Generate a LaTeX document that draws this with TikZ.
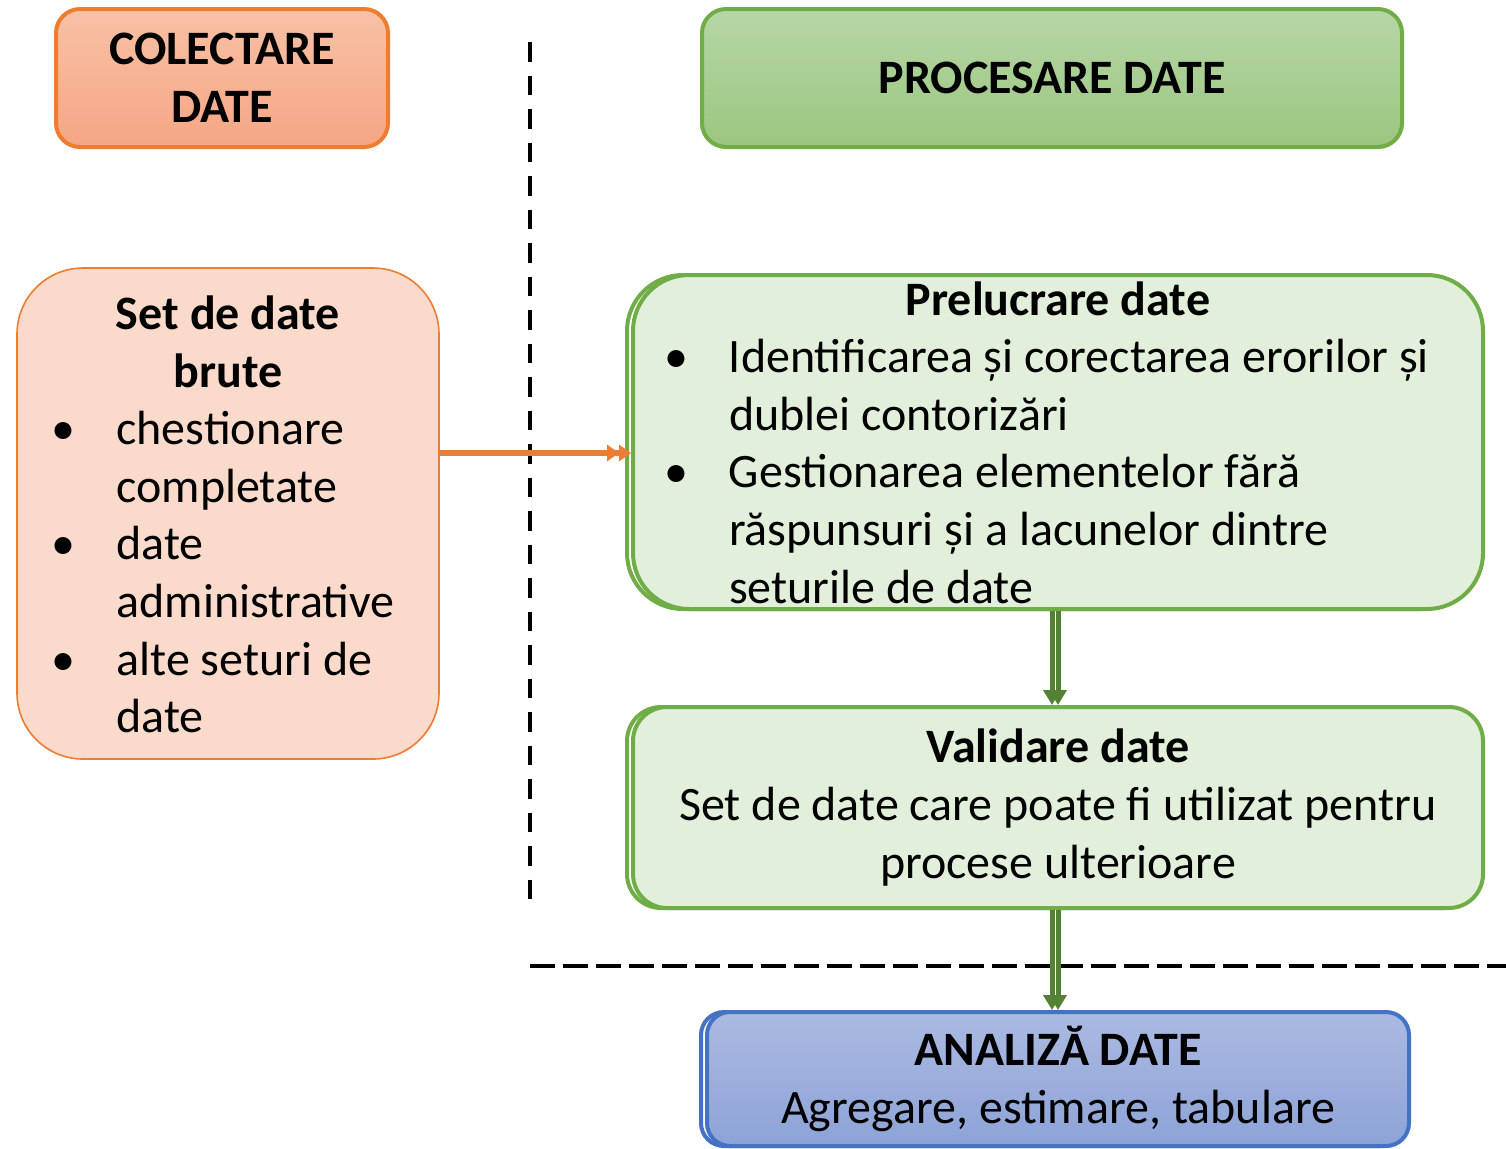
\documentclass[tikz,border=0pt]{standalone}
\usepackage{fontspec}
\setmainfont{Carlito}
\usepackage{tikz}
\usetikzlibrary{positioning,arrows.meta,shadows}

\definecolor{orline}{RGB}{237,125,49}
\definecolor{ortop}{RGB}{248,193,166}
\definecolor{orbot}{RGB}{245,166,132}
\definecolor{orfill}{RGB}{250,218,203}
\definecolor{grline}{RGB}{112,173,71}
\definecolor{grtop}{RGB}{182,215,167}
\definecolor{grbot}{RGB}{155,198,127}
\definecolor{grfill}{RGB}{226,239,218}
\definecolor{grdark}{RGB}{84,130,53}
\definecolor{blline}{RGB}{68,114,196}
\definecolor{bltop}{RGB}{171,186,226}
\definecolor{blbot}{RGB}{141,163,215}

\begin{document}
\begin{tikzpicture}[x=0.5pt,y=-0.5pt,
    every node/.style={font=\fontsize{24}{28.8}\selectfont, inner sep=0pt},
    boldtext/.style={font=\fontsize{24}{28.8}\selectfont\bfseries},
    headbox/.style={draw, line width=2pt, rounded corners=12pt, align=center},
    copyshadow/.style={general shadow={shadow xshift=-3pt, shadow yshift=0pt,
        draw=#1, fill=white, line width=2pt}},
    stagebox/.style={draw=grline, fill=grfill, line width=2pt, copyshadow=grline,
        minimum width=425pt},
    dashline/.style={line width=2pt, dash pattern=on #1 off 7pt},
    grarrow/.style={draw=grdark, line width=2.5pt, -{Triangle[length=7.5pt,width=8.5pt]}}]
  \useasboundingbox (0,0) rectangle (1506,1148);

  % separators
  \draw[dashline=9.75pt] (530,42) -- (530,900);
  \draw[line width=2pt, dash pattern=on 12.5pt off 4pt] (530,966) -- (1506,966);

  \node[headbox, boldtext, draw=orline, top color=ortop, bottom color=orbot,
    minimum width=166pt, minimum height=69pt] (collect) at (222,78) {COLECTARE\\DATE};
  \node[headbox, boldtext, draw=grline, top color=grtop, bottom color=grbot,
    minimum width=350pt, minimum height=69pt, right=155pt of collect] (proc) {PROCESARE DATE};

  \node[draw=orline, fill=orfill, line width=0.8pt, rounded corners=33pt,
    minimum width=211pt, minimum height=245.5pt] (raw) at (228,513.5) {%
    \smash{\raisebox{-9.25pt}{%
    \begin{tabular}{@{}p{32.5pt}@{}p{144pt}@{}}
      \multicolumn{2}{c}{\bfseries Set de date}\\
      \multicolumn{2}{c}{\bfseries brute}\\
      \textbullet & chestionare\\
                  & completate\\
      \textbullet & date\\
                  & administrative\\
      \textbullet & alte seturi de\\
                  & date
    \end{tabular}}}};

  % text runs over the box, as in the source
  \node[stagebox, rounded corners=28pt, minimum height=167pt] (prel) at (1058,442) {%
    \smash{\raisebox{-9pt}{%
    \begin{tabular}{@{}p{32.5pt}@{}p{361.5pt}@{}}
      \multicolumn{2}{c}{\bfseries Prelucrare date}\\
      \textbullet & Identificarea și corectarea erorilor și\\
                  & dublei contorizări\\
      \textbullet & Gestionarea elementelor fără\\
                  & răspunsuri și a lacunelor dintre\\
                  & seturile de date
    \end{tabular}}}};
  \node[stagebox, rounded corners=17pt, minimum height=100.5pt, align=center,
    below=47pt of prel] (valid)
    {{\bfseries Validare date}\\Set de date care poate fi utilizat pentru\\procese ulterioare};
  \node[draw=blline, top color=bltop, bottom color=blbot, line width=2pt, copyshadow=blline,
    rounded corners=11.5pt, minimum width=351pt, minimum height=67pt, align=center,
    below=50pt of valid] (ana)
    {{\bfseries ANALIZĂ DATE}\\Agregare, estimare, tabulare};

  \coordinate (arrowy) at (530,453);
  \draw[orline, line width=2.6pt,
    -{Triangle[length=6pt,width=8pt]Triangle[length=6pt,width=8pt]}]
    (raw.east |- arrowy) -- (prel.west |- arrowy);
  \draw[grarrow] ([xshift=-3pt]prel.south) -- ([xshift=-3pt]valid.north);
  \draw[grarrow] (prel.south) -- (valid.north);
  \draw[grarrow] ([xshift=-3pt]valid.south) -- ([xshift=-3pt]ana.north);
  \draw[grarrow] (valid.south) -- (ana.north);
\end{tikzpicture}
\end{document}
